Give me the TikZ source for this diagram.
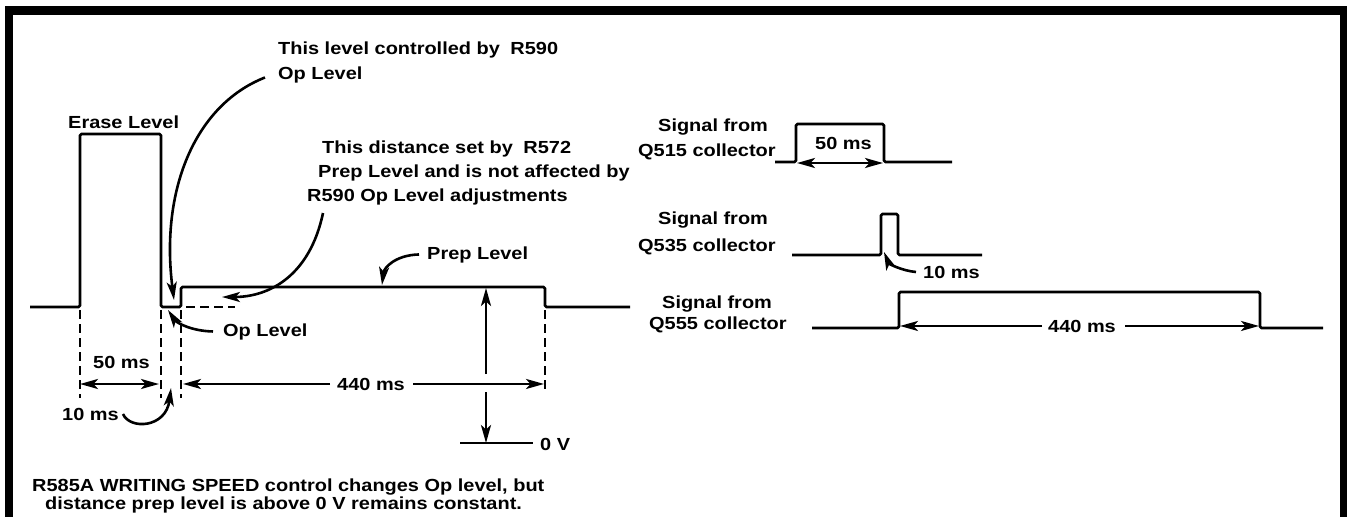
\documentclass[tikz,border=0pt]{standalone}
\usepackage{fontspec}
\setmainfont{Liberation Sans}[FakeStretch=1.14]
\usetikzlibrary{arrows.meta}
\begin{document}
\begin{tikzpicture}[x=1pt,y=-1pt,
  wave/.style={line width=2.8pt, line join=round, rounded corners=1.5pt},
  dsh/.style={line width=2.6pt, dash pattern=on 9pt off 5pt},
  arr/.style={line width=2.6pt, -{Stealth[length=18pt,width=10pt,inset=4.5pt]}},
  darr/.style={line width=2.6pt, {Stealth[length=18pt,width=10pt,inset=4.5pt]}-{Stealth[length=18pt,width=10pt,inset=4.5pt]}},
  plain/.style={line width=2.6pt},
  lbl/.style={font=\fontsize{17.5}{20}\selectfont\bfseries, inner sep=0pt, anchor=base west},
]
\useasboundingbox (0,0) rectangle (1347,517);
% frame
\fill (5,6) rectangle (1347,15);
\fill (5,6) rectangle (13,517);
\fill (1340,6) rectangle (1347,517);

% ---------- texts ----------
\node[lbl] (t1) at (278,54) {This level controlled by\hspace{5pt} R590};
\node[lbl] (t2) at (278,79) {Op Level};
\node[lbl] (erase) at (68,128) {Erase Level};
\node[lbl] (d1) at (322,153) {This distance set by\hspace{5pt} R572};
\node[lbl] (d2) at (318,177) {Prep Level and is not affected by};
\node[lbl] (d3) at (307,201) {R590 Op Level adjustments};
\node[lbl] (prep) at (427,259) {Prep Level};
\node[lbl] (oplow) at (223,336) {Op Level};
\node[lbl] (fifty) at (93,368) {50 ms};
\node[lbl] (ff) at (337,390) {440 ms};
\node[lbl] (ten) at (62,420) {10 ms};
\node[lbl] (zv) at (540,450) {0 V};
\node[lbl] (b1) at (32,491) {R585A WRITING SPEED control changes Op level, but};
\node[lbl] (b2) at (45,509) {distance prep level is above 0 V remains constant.};

\node[lbl] (s1a) at (658,131) {Signal from};
\node[lbl] (s1b) at (638,156) {Q515 collector};
\node[lbl] (s2a) at (658,224) {Signal from};
\node[lbl] (s2b) at (638,251) {Q535 collector};
\node[lbl] (s3a) at (662,308) {Signal from};
\node[lbl] (s3b) at (649,329) {Q555 collector};
\node[lbl] (r50) at (815,149) {50 ms};
\node[lbl] (r10) at (923,278) {10 ms};
\node[lbl] (r440) at (1048,332) {440 ms};

% ---------- coordinates ----------
\coordinate (opTip) at (174,300);
\coordinate (opLowTip) at (168,310);
\coordinate (distTip) at (222,297);
\coordinate (prepTip) at (382,285);
\coordinate (tenTip) at (171,388);
\coordinate (vtop) at (486,288);
\coordinate (vgap1) at (486,374);
\coordinate (vgap2) at (486,392);
\coordinate (vbot) at (486,443);
\coordinate (zvL) at (460,443);
\coordinate (a50L) at (80,384);
\coordinate (a50R) at (159,384);
\coordinate (a440L) at (183,384);
\coordinate (a440R) at (544,384);
\coordinate (r10Tip) at (884,252);
\coordinate (ra50L) at (797,163);
\coordinate (ra50R) at (883,163);
\coordinate (ra440L) at (900,327);
\coordinate (ra440R) at (1259,327);

% ---------- main waveform ----------
\draw[wave] (30,307) -- (80,307) -- (80,134) -- (161,134) -- (161,307) -- (181,307) -- (181,287) -- (545,287) -- (545,307) -- (630,307);
\draw[dsh] (186,307) -- (235,307);
\draw[dsh] (80,310) -- (80,398);
\draw[dsh] (161,310) -- (161,398);
\draw[dsh] (181,310) -- (181,398);
\draw[dsh] (545,310) -- (545,393);

% dimension arrows
\draw[darr] (a50L) -- (a50R);
\draw[arr] ([xshift=-7pt]ff.west) -- (ff.west -| a440L);
\draw[arr] ([xshift=8pt]ff.east) -- (ff.east -| a440R);
\draw[arr] (vgap1) -- (vtop);
\draw[arr] (vgap2) -- (vbot);
\draw[plain] (zvL) -- ([xshift=-7pt]zv.west |- zvL);

% curved callouts
\draw[arr] ([shift={(-13,3)}]t2.west) .. controls (195,105) and (160,190) .. (opTip);
\draw[arr] ([shift={(16,12)}]d3.base west) .. controls (310,275) and (270,297) .. (distTip);
\draw[arr] ([xshift=-8pt]prep.west) .. controls (395,255) and (384,268) .. (prepTip);
\draw[arr] ([xshift=-10pt]oplow.west) .. controls (190,331) and (176,322) .. (opLowTip);
\draw[arr] ([xshift=4pt]ten.east) .. controls (130,430) and (166,428) .. (tenTip);

% ---------- right waveforms ----------
\draw[wave] (775,162) -- (796,162) -- (796,124) -- (884,124) -- (884,162) -- (952,162);
\draw[darr] (ra50L) -- (ra50R);
\draw[wave] (792,255) -- (881,255) -- (881,214) -- (898,214) -- (898,255) -- (982,255);
\draw[arr] ([xshift=-7pt]r10.west) .. controls (903,271) and (889,264) .. (r10Tip);
\draw[wave] (812,328) -- (899,328) -- (899,292) -- (1260,292) -- (1260,328) -- (1323,328);
\draw[arr] ([xshift=-6pt]r440.west) -- (r440.west -| ra440L);
\draw[arr] ([xshift=9pt]r440.east) -- (r440.east -| ra440R);
\end{tikzpicture}
\end{document}
